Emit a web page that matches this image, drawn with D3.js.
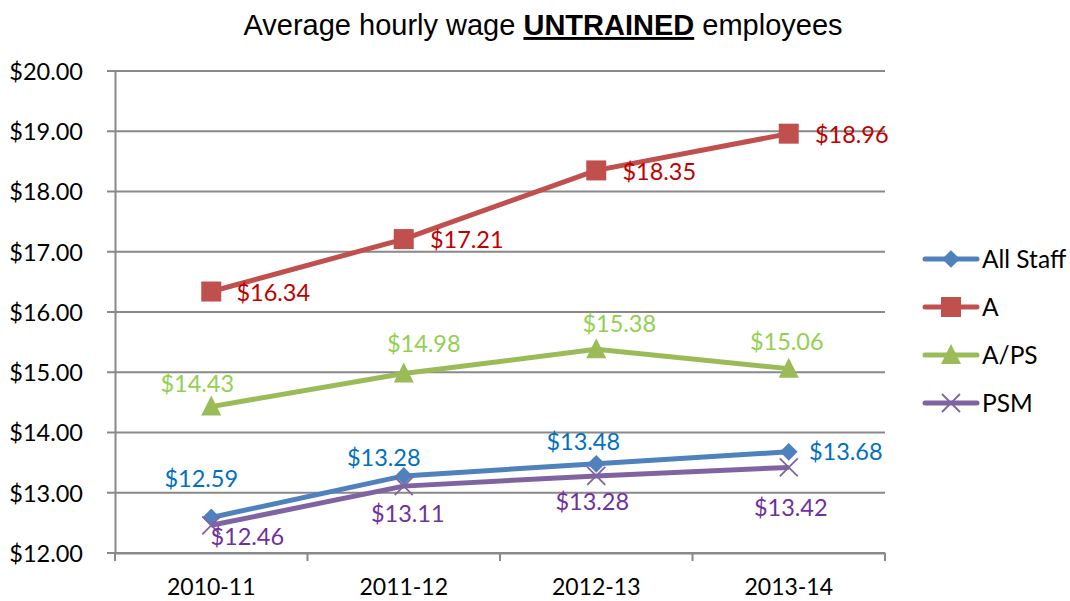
<!DOCTYPE html>
<html>
<head>
<meta charset="utf-8">
<script src="https://cdn.jsdelivr.net/npm/d3@7"></script>
<style>
  body { margin: 0; background: #fff; }
  svg text { font-family: Lato, "Open Sans", sans-serif; }
</style>
</head>
<body>
<div id="chart"></div>
<script>
// data
var years = ["2010-11", "2011-12", "2012-13", "2013-14"];
var allStaff = [12.59, 13.28, 13.48, 13.68];
var seriesA = [16.34, 17.21, 18.35, 18.96];
var seriesAPS = [14.43, 14.98, 15.38, 15.06];
var seriesPSM = [12.46, 13.11, 13.28, 13.42];
var yTicks = [12, 13, 14, 15, 16, 17, 18, 19, 20];

// label nudges (dx of text centre, dy of baseline) relative to each point
var series = [
  {name: "All Staff", values: allStaff, line: "#4F81BD", label: "#0070C0", marker: "diamond",
   nudge: [[-10, -30], [-20, -10], [-13, -14], [57, 8]]},
  {name: "A", values: seriesA, line: "#C0504D", label: "#C00000", marker: "square",
   nudge: [[62, 9], [63, 9], [63, 10], [63, 9]]},
  {name: "A/PS", values: seriesAPS, line: "#9BBB59", label: "#92D050", marker: "triangle",
   nudge: [[-14, -15], [20, -21], [23, -17], [-2, -19]]},
  {name: "PSM", values: seriesPSM, line: "#8064A2", label: "#7030A0", marker: "x",
   nudge: [[36, 20], [4, 36], [-4, 34], [2, 49]]}
];

var W = 1070, H = 601;
var margin = {top: 71, right: 185, bottom: 48, left: 115};
var width = W - margin.left - margin.right, height = H - margin.top - margin.bottom;

var svg = d3.select("#chart").append("svg")
    .attr("width", W).attr("height", H);

// title
var title = svg.append("text")
    .attr("x", 543).attr("y", 35)
    .attr("text-anchor", "middle")
    .style("font-family", "'Liberation Sans', Arial, sans-serif")
    .style("font-size", "29px")
    .attr("fill", "#000");
title.append("tspan").text("Average hourly wage ");
title.append("tspan").text("UNTRAINED").style("font-weight", "bold")
    .style("text-decoration", "underline").style("text-decoration-thickness", "3px");
title.append("tspan").text(" employees");

var g = svg.append("g").attr("transform", "translate(" + margin.left + "," + margin.top + ")");

var x = d3.scaleBand().domain(years).range([0, width]);
var y = d3.scaleLinear().domain([12, 20]).range([height, 0]);

// gridlines
g.append("g").selectAll("line")
  .data(yTicks).enter().append("line")
    .attr("x1", -8).attr("x2", width)
    .attr("y1", d => y(d)).attr("y2", d => y(d))
    .attr("stroke", "#898989").attr("stroke-width", 2);

// y axis
var yAxis = g.append("g")
    .call(d3.axisLeft(y).tickValues(yTicks).tickSize(0).tickPadding(32).tickFormat(d3.format("$.2f")));
yAxis.select(".domain").attr("stroke", "#898989").attr("stroke-width", 2);
yAxis.selectAll("text").style("font-size", "23.5px").attr("fill", "#000").attr("dy", "0.36em");

// x axis
var xAxis = g.append("g")
    .attr("transform", "translate(0," + height + ")")
    .call(d3.axisBottom(x).tickSize(0).tickPadding(0));
xAxis.select(".domain").attr("stroke", "#898989").attr("stroke-width", 2);
xAxis.selectAll("text").style("font-size", "23px").attr("fill", "#000").attr("dy", null).attr("y", 42);
g.append("g").selectAll("line")
  .data(d3.range(years.length + 1)).enter().append("line")
    .attr("x1", i => i * x.bandwidth()).attr("x2", i => i * x.bandwidth())
    .attr("y1", height).attr("y2", height + 8)
    .attr("stroke", "#898989").attr("stroke-width", 2);

var line = d3.line()
    .x((d, i) => x(years[i]) + x.bandwidth() / 2)
    .y(d => y(d));

function drawMarker(sel, type, color, cx, cy) {
  if (type === "diamond") {
    sel.append("path").attr("d", d3.symbol().type(d3.symbolDiamond2).size(200)())
      .attr("transform", "translate(" + cx + "," + cy + ")")
      .attr("fill", color);
  } else if (type === "square") {
    sel.append("rect").attr("x", cx - 10).attr("y", cy - 10).attr("width", 20).attr("height", 20)
      .attr("fill", color);
  } else if (type === "triangle") {
    sel.append("path").attr("d", "M" + cx + "," + (cy - 11) + "L" + (cx + 10) + "," + (cy + 9) + "L" + (cx - 10) + "," + (cy + 9) + "Z")
      .attr("fill", color);
  } else if (type === "x") {
    sel.append("path").attr("d", "M" + (cx - 9) + "," + (cy - 9) + "L" + (cx + 9) + "," + (cy + 9) + "M" + (cx + 9) + "," + (cy - 9) + "L" + (cx - 9) + "," + (cy + 9))
      .attr("stroke", color).attr("stroke-width", 1.8).attr("fill", "none");
  }
}

series.forEach(function(s) {
  var sg = g.append("g");
  sg.append("path").datum(s.values)
    .attr("d", line)
    .attr("fill", "none").attr("stroke", s.line).attr("stroke-width", 5).attr("stroke-linejoin", "round");
  s.values.forEach(function(v, i) {
    var cx = x(years[i]) + x.bandwidth() / 2, cy = y(v);
    drawMarker(sg, s.marker, s.line, cx, cy);
  });
});

// data labels
series.forEach(function(s) {
  s.values.forEach(function(v, i) {
    var cx = x(years[i]) + x.bandwidth() / 2, cy = y(v);
    g.append("text").text(d3.format("$.2f")(v))
      .attr("x", cx + s.nudge[i][0]).attr("y", cy + s.nudge[i][1])
      .attr("text-anchor", "middle")
      .style("font-size", "23.5px").attr("fill", s.label);
  });
});

// legend
var legend = svg.append("g").attr("transform", "translate(923,259)");
series.forEach(function(s, i) {
  var lg = legend.append("g").attr("transform", "translate(0," + (i * 48) + ")");
  lg.append("line").attr("x1", 2).attr("x2", 54).attr("y1", 0).attr("y2", 0)
    .attr("stroke", s.line).attr("stroke-width", 5).attr("stroke-linecap", "round");
  drawMarker(lg, s.marker, s.line, 28, 0);
  lg.append("text").attr("x", 59).attr("y", 9).text(s.name)
    .style("font-size", "24.5px").attr("fill", "#000");
});
</script>
</body>
</html>
